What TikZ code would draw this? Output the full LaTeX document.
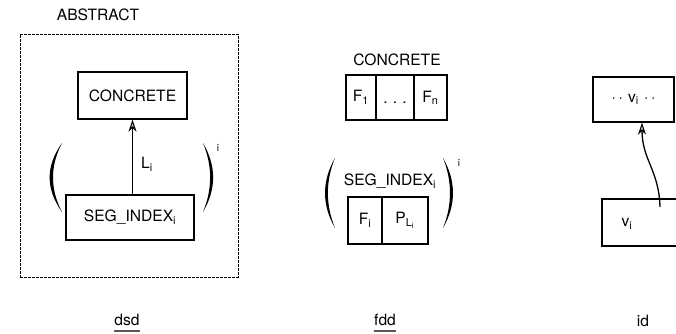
\documentclass[tikz,border=0pt]{standalone}
\usepackage{fontspec}
\setmainfont{TeX Gyre Heros}
\usetikzlibrary{arrows.meta,calc}
\begin{document}
\begin{tikzpicture}[x=1pt,y=-1pt,
  txt/.style={inner sep=0pt,font=\fontsize{15.6}{18}\selectfont},
  box/.style={txt,draw,line width=1.4pt,rectangle},
  cell/.style={box,minimum height=45pt},
  sup/.style={inner sep=0pt,font=\fontsize{10}{12}\selectfont},
  frame/.style={draw,line width=1pt,dash pattern=on 2.6pt off 1.4pt,inner sep=0pt},
  tip/.style={-{Stealth[length=12pt,width=8pt,fill=gray!55,line width=1pt]},line width=1.3pt},
  uline/.style={line width=1.6pt,gray!70!black}
]
\useasboundingbox (0,0) rectangle (676,333);
\clip (0,0) rectangle (676,333);

% ---------- dsd ----------
\node[txt] (abs) at (98,15) {ABSTRACT};
\node[frame,minimum width=218pt,minimum height=243pt] (frame) at (129,155.5) {};
\node[box,minimum width=109pt,minimum height=47pt] (conc) at (132.5,95.5) {CONCRETE};
\node[box,minimum width=128pt,minimum height=45pt] (seg) at (130,217.5) {SEG\_INDEX\textsubscript{i}};
\draw[tip] (conc.south |- seg.north) -- (conc.south);
\node[txt] (li) at (147,164) {L\textsubscript{i}};
\fill (62,143) .. controls (45.5,166) and (45.5,189) .. (62,212)
      .. controls (50,189) and (50,166) .. (62,143);
\fill (203,143) .. controls (216.5,166) and (216.5,189) .. (203,212)
      .. controls (212.5,189) and (212.5,166) .. (203,143);
\node[sup] (supa) at (218,148) {i};
\node[txt] (dsd) at (127,320) {dsd};
\draw[uline] ($(dsd.south west)+(0,5)$) -- ($(dsd.south east)+(0,5)$);

% ---------- fdd ----------
\node[txt] (fconc) at (397,60) {CONCRETE};
\node[cell,minimum width=30pt] (f1) at (361,97.5) {F\textsubscript{1}};
\node[cell,minimum width=38pt] (fdots) at (395,97.5) {\vphantom{F}.\,\,.\,\,.};
\node[cell,minimum width=33pt] (fn) at (430.5,97.5) {F\textsubscript{n}};
\node[txt] (fseg) at (390,181) {SEG\_INDEX\textsubscript{i}};
\node[cell,minimum width=34pt,minimum height=47pt] (fi) at (365,220.5) {F\textsubscript{i}};
\node[cell,minimum width=46pt,minimum height=47pt] (pli) at (405,220.5) {P\textsubscript{L\textsubscript{i}}};
\fill (335,158) .. controls (321.7,181) and (321.7,205) .. (335,228)
      .. controls (325.5,205) and (325.5,181) .. (335,158);
\fill (443,158) .. controls (456.3,181) and (456.3,205) .. (443,228)
      .. controls (452.3,205) and (452.3,181) .. (443,158);
\node[sup] (supb) at (459,163) {i};
\node[txt] (fdd) at (385,320) {fdd};
\draw[uline] ($(fdd.south west)+(0,5)$) -- ($(fdd.south east)+(0,5)$);

% ---------- id ----------
\node[box,minimum width=81pt,minimum height=45pt] (vtop) at (633.5,99.5)
  {\textperiodcentered\,\textperiodcentered\,\,v\textsubscript{i}\,\,\textperiodcentered\,\textperiodcentered};
\node[box,minimum width=110pt,minimum height=47pt] (vbox) at (657,222.5) {};
\node[txt] (vi) at (627,224) {v\textsubscript{i}};
\coordinate (vstart) at (660,207);
\draw[tip] (vstart) .. controls (659,170) and (642,160) .. (vtop.south -| 642,0);
\node[txt] (id) at (643,321) {id};
\end{tikzpicture}
\end{document}
